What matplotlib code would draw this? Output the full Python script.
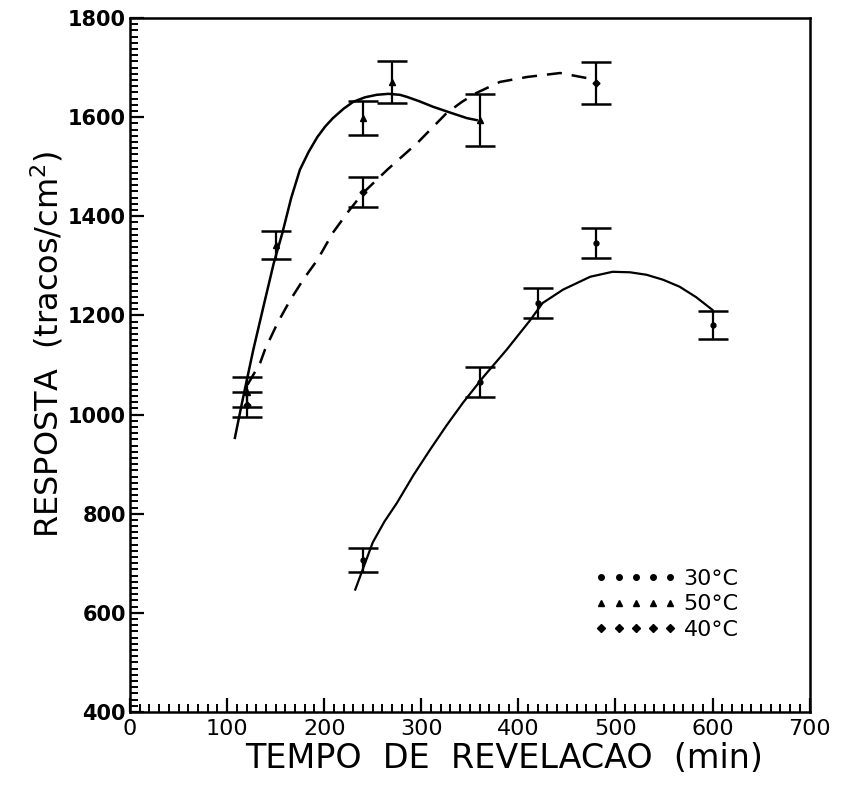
import numpy as np
import matplotlib.pyplot as plt
from matplotlib.ticker import MultipleLocator

# measured points (tempo em min, resposta em tracos/cm2, erro)
t_30 = [240, 360, 420, 480, 600]
r_30 = [707, 1066, 1225, 1346, 1181]
e_30 = [24, 30, 30, 30, 28]

t_50 = [120, 150, 240, 270, 360]
r_50 = [1045, 1342, 1598, 1671, 1594]
e_50 = [30, 28, 35, 42, 52]

t_40 = [120, 240, 480]
r_40 = [1020, 1449, 1669]
e_40 = [25, 30, 42]

# curvas ajustadas
c50_t = [108, 116, 127, 139, 148, 157, 166, 175, 184, 193, 201, 209, 220, 230, 242, 254,
         266, 278, 285, 298, 312, 330, 347, 357]
c50_r = [953, 1030, 1131, 1231, 1305, 1367, 1437, 1494, 1530, 1560, 1581, 1598, 1617, 1631,
         1640, 1645, 1647, 1645, 1641, 1632, 1621, 1609, 1598, 1594]

c40_t = [121, 134, 139, 152, 165, 179, 193, 209, 225, 240, 265, 296, 326, 342, 357, 381,
         409, 443, 470]
c40_r = [1060, 1104, 1131, 1185, 1231, 1274, 1312, 1367, 1410, 1447, 1494, 1548, 1608,
         1631, 1649, 1671, 1681, 1689, 1679]

c30_t = [232, 250, 262, 275, 292, 309, 326, 343, 364, 388, 412, 425, 446, 474, 497, 515,
         532, 549, 566, 583, 600]
c30_r = [647, 742, 784, 822, 878, 929, 978, 1024, 1076, 1131, 1190, 1225, 1252, 1278, 1288,
         1287, 1282, 1272, 1258, 1237, 1211]

fig = plt.figure(figsize=(8.46, 7.89), dpi=100)
ax = fig.add_axes([0.1537, 0.0976, 0.8033, 0.8796])

ax.plot(c50_t, c50_r, color='black', lw=1.8)
ax.plot(c40_t, c40_r, color='black', lw=1.8, ls=(0, (6, 4)))
ax.plot(c30_t, c30_r, color='black', lw=1.6)

ax.errorbar(t_30, r_30, yerr=e_30, fmt='o', ms=3.5, color='black',
            capsize=11, elinewidth=1.6, capthick=1.8)
ax.errorbar(t_50, r_50, yerr=e_50, fmt='^', ms=4, color='black',
            capsize=11, elinewidth=1.6, capthick=1.8)
ax.errorbar(t_40, r_40, yerr=e_40, fmt='D', ms=3.5, color='black',
            capsize=11, elinewidth=1.6, capthick=1.8)

ax.set_xlim(0, 700)
ax.set_ylim(400, 1800)
ax.xaxis.set_major_locator(MultipleLocator(100))
ax.xaxis.set_minor_locator(MultipleLocator(10))
ax.yaxis.set_major_locator(MultipleLocator(200))
ax.yaxis.set_minor_locator(MultipleLocator(12.5))
ax.tick_params(which='major', direction='in', length=10, width=1.6)
ax.tick_params(which='minor', direction='in', length=6, width=1.4)
ax.tick_params(axis='y', labelsize=15, pad=3)
ax.tick_params(axis='x', labelsize=16, pad=5)
for lab in ax.get_yticklabels():
    lab.set_fontweight('bold')
for s in ax.spines.values():
    s.set_linewidth(1.8)

ax.set_xlabel('TEMPO  DE  REVELACAO  (min)', fontsize=24, labelpad=2, x=0.55)
ax.set_ylabel('RESPOSTA  (tracos/cm$^2$)', fontsize=23, labelpad=2, y=0.53)

h30 = ax.plot([], [], 'o', ms=4, color='black')[0]
h50 = ax.plot([], [], '^', ms=5, color='black')[0]
h40 = ax.plot([], [], 'D', ms=4, color='black')[0]
ax.legend([h30, h50, h40], ['30°C', '50°C', '40°C'], numpoints=5,
          frameon=False, fontsize=16, handlelength=3.7, handletextpad=0.3,
          labelspacing=0.25, loc='lower right', bbox_to_anchor=(0.925, 0.075))

fig.savefig('out.png', dpi=100)
